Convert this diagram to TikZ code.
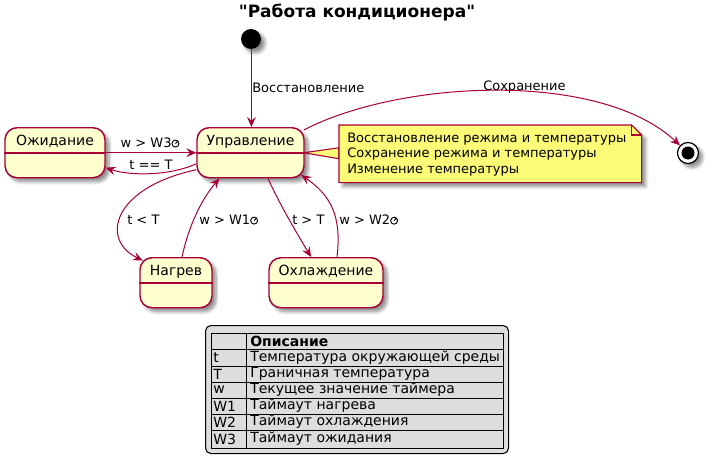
\documentclass[tikz,border=0pt]{standalone}
\usepackage{fontspec}
\setmainfont{DejaVu Sans}[Ligatures=TeXOff]
\usetikzlibrary{arrows.meta,shadows.blur,calc}
\definecolor{stfill}{HTML}{FEFECE}
\definecolor{stline}{HTML}{A80036}
\definecolor{notefill}{HTML}{FBFB77}
\definecolor{legfill}{HTML}{DDDDDD}
\newcommand{\tmr}{\tikz[x=1pt,y=1pt,baseline=0pt,line width=0.7pt,black]{\draw (3,3.1) circle (2.6); \draw (3,3.1) -- (4.9,5.2);}}
\newcommand{\mystate}[5]{%
  \node[statebox, minimum width=#4*0.75pt, minimum height=50*0.75pt, anchor=north] (#1) at (#2,#3) {};
  \node[font=\fontsize{10.5}{12}\selectfont] (#1-t) at (#2,#3+14.5) {#5};
  \draw[stline, line width=1pt] ($(#1.north west)+(0,26)$) -- ($(#1.north east)+(0,26)$);
}
\begin{document}
\begin{tikzpicture}[x=0.75pt,y=-0.75pt,
  every node/.style={font=\fontsize{9.75}{11.6}\selectfont, inner sep=0pt},
  shd/.style={blur shadow={shadow xshift=3pt, shadow yshift=-3pt, shadow blur steps=6, shadow blur radius=2.5pt, shadow opacity=45}},
  statebox/.style={draw=stline, fill=stfill, line width=1.1pt, rounded corners=9pt, shd},
  conn/.style={draw=stline, line width=0.75pt, -{Stealth[length=7.5pt,width=6.5pt,inset=2.8pt]}},
  lbl/.style={anchor=west},
  legtxt/.style={anchor=west, font=\fontsize{10.5}{12}\selectfont},
]
\useasboundingbox (0,0) rectangle (707,464);

% title
\node[font=\fontsize{12.75}{15}\selectfont\bfseries] (title) at (357,13) {"Работа кондиционера"};

% start / end
\node[circle, fill=black, minimum size=20*0.75pt, shd] (start) at (251,39) {};
\node[circle, draw=black, fill=white, line width=0.9pt, minimum size=21*0.75pt, shd] (end) at (688,153) {};
\node[circle, fill=black, minimum size=13*0.75pt] (endin) at (end) {};

% states
\mystate{wait}{55}{127}{100}{Ожидание}
\mystate{upr}{250.5}{127}{107}{Управление}
\mystate{heat}{176}{257}{72}{Нагрев}
\mystate{cool}{326}{257}{114}{Охлаждение}

% note
\node[minimum width=302*0.75pt, minimum height=57*0.75pt, anchor=north west] (note) at (339,125) {};
\draw[stline, fill=notefill, line width=0.8pt] ($(upr.east)+(-1,0)$) -- ($(note.west)+(0,-6)$) -- ($(note.west)+(0,5)$) -- cycle;
\draw[stline, fill=notefill, line width=0.8pt, shd] (note.north west) -- ($(note.north east)+(-10,0)$) -- ($(note.north east)+(0,10)$) -- (note.south east) -- (note.south west) -- cycle;
\draw[stline, line width=0.8pt] ($(note.north east)+(-10,0)$) -- ($(note.north east)+(-10,10)$) -- ($(note.north east)+(0,10)$);
\node[anchor=west, align=left] (notetext) at (347,154.5) {Восстановление режима и температуры\\Сохранение режима и температуры\\Изменение температуры};

% connectors
\draw[conn] ([xshift=0.3pt]start.south) -- ([xshift=0.3pt]start |- upr.north);
\node[lbl] (l1) at (252,88) {Восстановление};

\draw[conn] ($(upr.north east)+(-1,3)$) .. controls (400,80) and (600,70) .. (end);
\node[lbl] (l2) at (483,87) {Сохранение};

\draw[conn] (wait.east) -- (upr.west);
\node (l3) at (150,143) {w > W3\tmr};

\draw[conn] ($(upr.west)+(0,11)$) .. controls (170,176) and (130,176) .. ($(wait.east)+(0,15)$);
\node (l4) at (151,165) {t == T};

\draw[conn] ($(upr.west)+(0,17)$) .. controls (112,188) and (100,240) .. ($(heat.north west)+(3.5,3.5)$);
\node[lbl] (l5) at (127,220) {t < T};

\draw[conn] ($(heat.north)+(6,0)$) .. controls (190,220) and (205,195) .. ($(upr.south)+(-31,0)$);
\node[lbl] (l6) at (199,220) {w > W1\tmr};

\draw[conn] ($(upr.south)+(17.5,0)$) .. controls (280,205) and (295,230) .. ($(cool.north)+(-15,0)$);
\node[lbl] (l7) at (292,220) {t > T};

\draw[conn] ($(cool.north)+(11,0)$) .. controls (342,215) and (330,195) .. ($(upr.south east)+(-3.5,-3.5)$);
\node[lbl] (l8) at (339,220) {w > W2\tmr};

% legend
\node[draw=black, fill=legfill, rounded corners=4pt, line width=0.8pt, minimum width=303*0.75pt, minimum height=128*0.75pt, anchor=north west] (legend) at (205,325) {};
\draw[line width=0.75pt] (211,333) rectangle (503,448);
\draw[line width=0.75pt] (246,333) -- (246,448);
\foreach \yy in {349,366,382,398,414,430} \draw[line width=0.75pt] (211,\yy) -- (503,\yy);
\node[legtxt, font=\fontsize{10.5}{12}\selectfont\bfseries] (h) at (250,341) {Описание};
\node[legtxt] (k1) at (213,357.5) {t};
\node[legtxt] (v1) at (250,357.5) {Температура окружающей среды};
\node[legtxt] (k2) at (213,374) {T};
\node[legtxt] (v2) at (250,374) {Граничная температура};
\node[legtxt] (k3) at (213,390) {w};
\node[legtxt] (v3) at (250,390) {Текущее значение таймера};
\node[legtxt] (k4) at (213,406) {W1};
\node[legtxt] (v4) at (250,406) {Таймаут нагрева};
\node[legtxt] (k5) at (213,422) {W2};
\node[legtxt] (v5) at (250,422) {Таймаут охлаждения};
\node[legtxt] (k6) at (213,439) {W3};
\node[legtxt] (v6) at (250,439) {Таймаут ожидания};
\end{tikzpicture}
\end{document}
